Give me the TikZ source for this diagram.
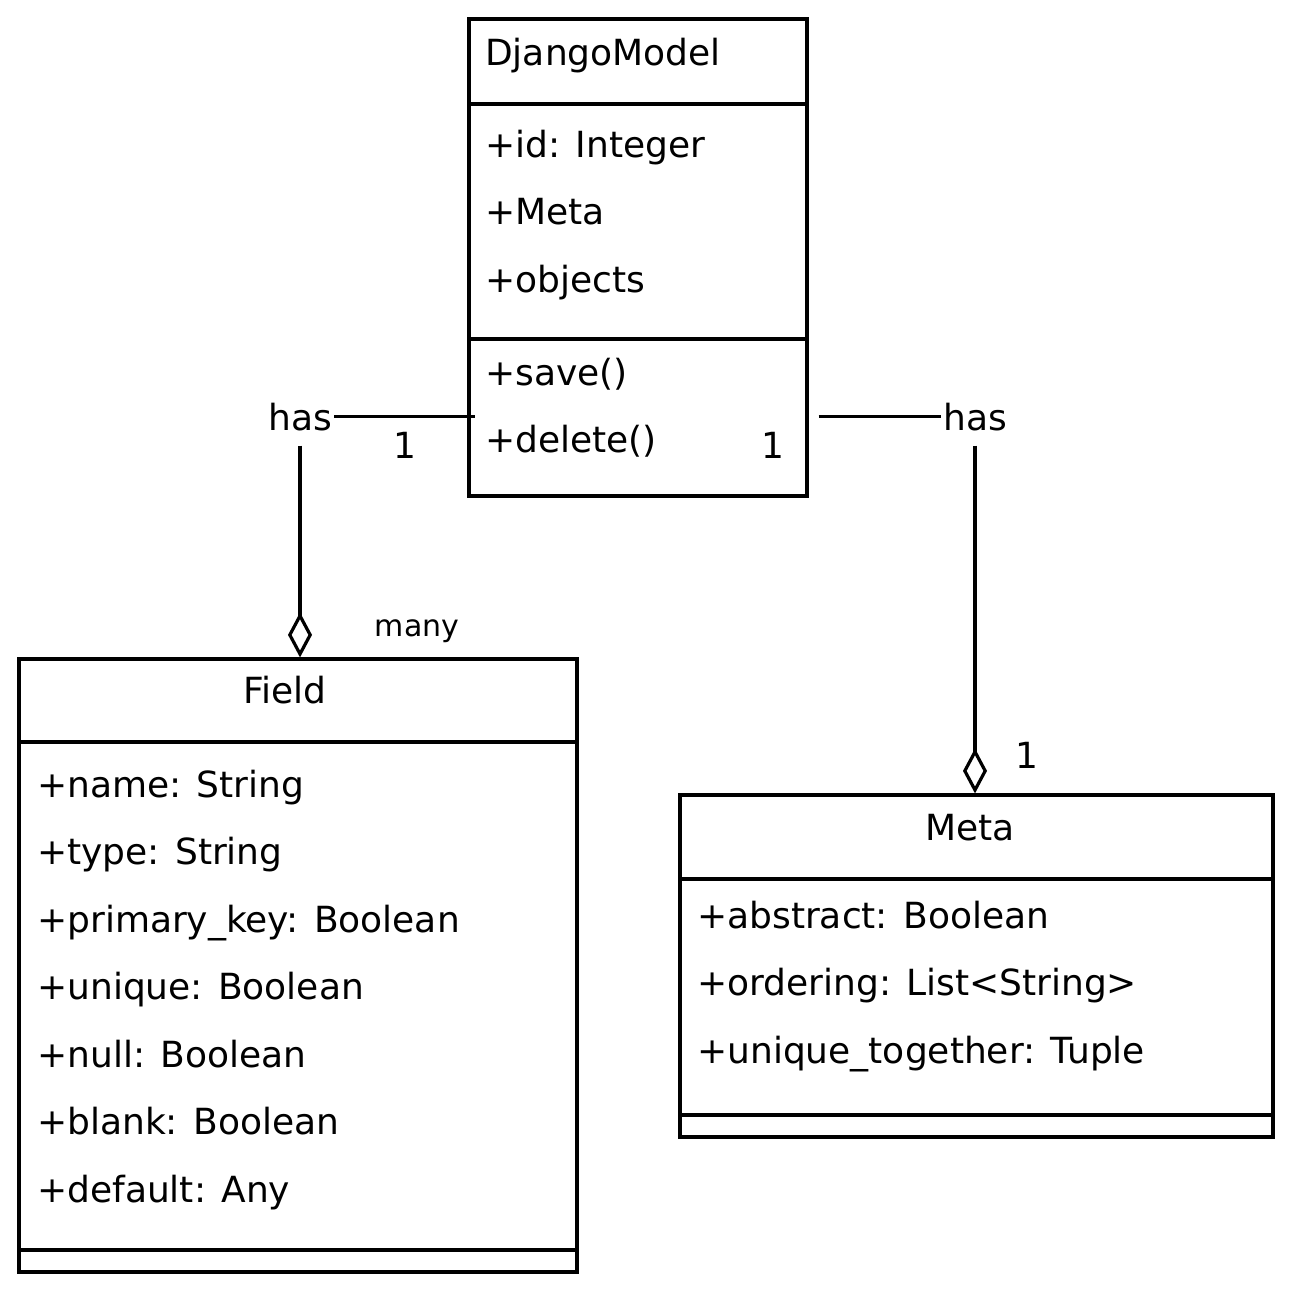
\documentclass[tikz,border=0pt]{standalone}
\usepackage{fontspec}
\setmainfont{DejaVu Sans}
\usetikzlibrary{arrows.meta}

\tikzset{
    classbox/.style={draw, line width=3.2pt, inner sep=0pt},
    member/.style={anchor=base west, inner sep=0pt, font=\fontsize{36}{43}\selectfont},
    title/.style={anchor=base, inner sep=0pt, font=\fontsize{36}{43}\selectfont},
    mult/.style={anchor=base, inner sep=0pt, font=\fontsize{36}{43}\selectfont},
    haslabel/.style={anchor=base, inner xsep=2pt, inner ysep=15pt, font=\fontsize{36}{43}\selectfont},
    rel/.style={line width=3.2pt},
    agg/.style={rel, -{Diamond[open, length=45pt, width=24pt]}},
}

\begin{document}
\begin{tikzpicture}[x=1pt, y=-1pt]
    \useasboundingbox (0,0) rectangle (1293,1292);

    % DjangoModel
    \node[classbox, minimum width=338pt, minimum height=477pt] (model) at (638,257.5) {};
    \draw[rel] (model.west |- 0,104) -- (model.east |- 0,104);
    \draw[rel] (model.west |- 0,339) -- (model.east |- 0,339);
    \node[member] (modelname) at (485,66) {DjangoModel};
    \foreach \txt [count=\i] in {+id: Integer, +Meta, +objects}
        \node[member] (modelattr\i) at (485,{91+67*\i}) {\txt};
    \node[member] (modelsave) at (485,385) {+save()};
    \node[member] (modeldelete) at (485,452) {+delete()};

    % Field
    \node[classbox, minimum width=558pt, minimum height=613pt] (field) at (298,965.5) {};
    \draw[rel] (field.west |- 0,742) -- (field.east |- 0,742);
    \draw[rel] (field.west |- 0,1250) -- (field.east |- 0,1250);
    \node[title] (fieldname) at (285,703) {Field};
    \foreach \txt [count=\i] in {+name: String, +type: String, +primary\_key: Boolean,
        +unique: Boolean, +null: Boolean, +blank: Boolean, +default: Any}
        \node[member] (fieldattr\i) at (37,{729.5+67.5*\i}) {\txt};

    % Meta
    \node[classbox, minimum width=593pt, minimum height=342pt] (meta) at (976.5,966) {};
    \draw[rel] (meta.west |- 0,879) -- (meta.east |- 0,879);
    \draw[rel] (meta.west |- 0,1115) -- (meta.east |- 0,1115);
    \node[title] (metaname) at (970,840) {Meta};
    \foreach \txt [count=\i] in {+abstract: Boolean, +ordering: List<String>, +unique\_together: Tuple}
        \node[member] (metaattr\i) at (697,{860.5+67.5*\i}) {\txt};

    % Relations
    \node[haslabel] (hasfield) at (300,430) {has};
    \draw[rel, shorten >=-8pt] (hasfield.east) -- (model.west |- hasfield.east);
    \draw[agg] (hasfield.south) -- (hasfield.south |- field.north);
    \node[mult] (modelfieldmult) at (405,458) {1};
    \node[mult, font=\fontsize{30}{36}\selectfont] (fieldmult) at (417,636) {many};

    \node[haslabel] (hasmeta) at (975,430) {has};
    \draw[rel, shorten <=10pt] (model.east |- hasmeta.west) -- (hasmeta.west);
    \draw[agg] (hasmeta.south) -- (hasmeta.south |- meta.north);
    \node[mult] (modelmetamult) at (773,458) {1};
    \node[mult] (metamult) at (1027,768) {1};
\end{tikzpicture}
\end{document}
